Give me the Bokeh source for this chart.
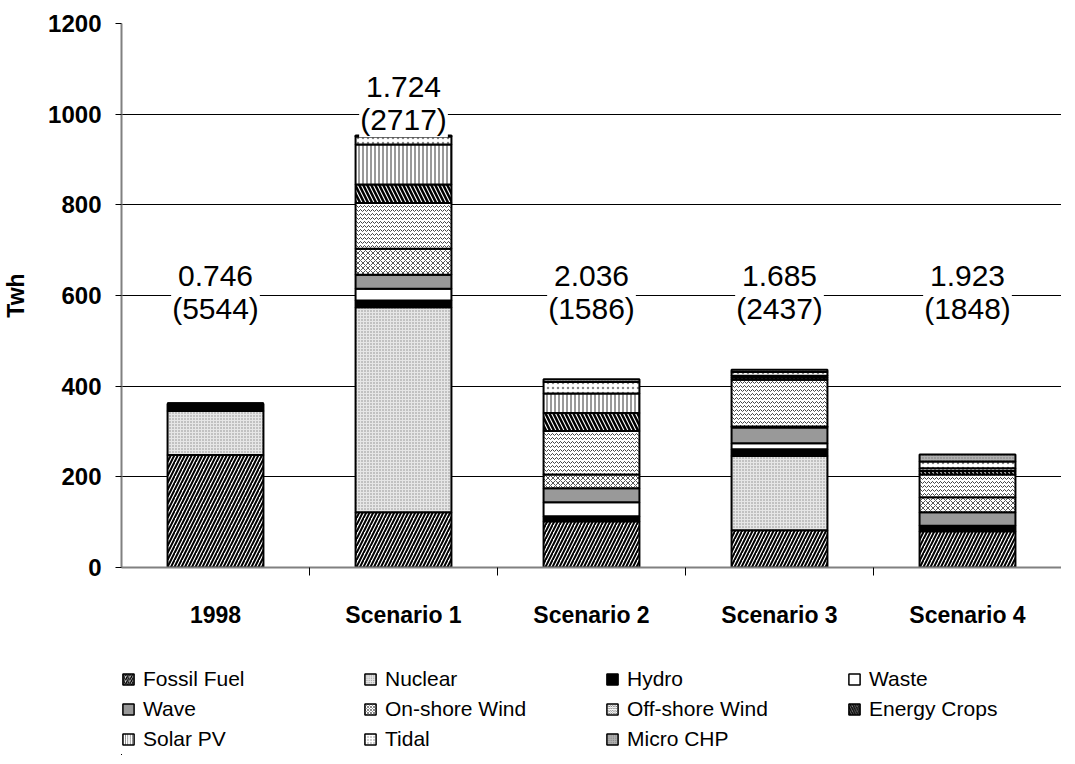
from bokeh.plotting import figure
from bokeh.models import (ColumnDataSource, FixedTicker, LinearAxis,
                          Range1d, Legend, LegendItem)
from bokeh.layouts import column
from bokeh.core.properties import value
from bokeh.embed import file_html
from bokeh.resources import INLINE

categories = ["1998", "Scenario 1", "Scenario 2", "Scenario 3", "Scenario 4"]
series_names = ["Fossil Fuel", "Nuclear", "Hydro", "Waste", "Wave", "On-shore Wind",
                "Off-shore Wind", "Energy Crops", "Solar PV", "Tidal", "Micro CHP"]
fossil_fuel = [248, 122, 102, 82, 80]
nuclear = [97, 452, 0, 164, 0]
hydro = [16, 15, 11, 15, 12]
waste = [0, 26, 31, 13, 0]
wave = [0, 31, 31, 35, 30]
onshore_wind = [0, 57, 30, 2, 33]
offshore_wind = [0, 101, 96, 103, 50]
energy_crops = [0, 41, 40, 5, 8]
solar_pv = [0, 88, 43, 4, 6]
tidal = [0, 18, 25, 8, 15]
micro_chp = [0, 2, 6, 5, 15]
ratio_labels = ["0.746", "1.724", "2.036", "1.685", "1.923"]
count_labels = ["(5544)", "(2717)", "(1586)", "(2437)", "(1848)"]
label_y = [607, 1024, 607, 607, 607]
y_ticks = [0, 200, 400, 600, 800, 1000, 1200]

FONT = "Liberation Sans"
n = len(categories)
xpos = list(range(n))
keys = ["s%d" % i for i in range(len(series_names))]
data = dict(x=xpos)
for k, v in zip(keys, [fossil_fuel, nuclear, hydro, waste, wave, onshore_wind, offshore_wind,
                       energy_crops, solar_pv, tidal, micro_chp]):
    data[k] = v
source = ColumnDataSource(data)

fills = ["white", "#e6e6e6", "black", "white", "#999999", "white", "white", "white", "white", "white", "#b0b0b0"]
patterns = ["right_diagonal_line", "dot", " ", " ", " ", "diagonal_cross", "horizontal_wave",
            "left_diagonal_line", "vertical_line", "dot", "dot"]
hcolors = ["black", "#8a8a8a", "black", "black", "black", "#555555", "#444444", "black", "#333333", "#888888", "#777777"]
hscales = [7, 3, 1, 1, 1, 5, 4, 8, 4, 5, 3]
hweights = [2, 1, 1, 1, 1, 1, 1, 2.5, 1, 1, 1]

p = figure(frame_width=940, frame_height=544, x_range=Range1d(-0.5, n - 0.5), y_range=Range1d(0, 1200),
           output_backend="svg", toolbar_location=None, x_axis_location=None, y_axis_location=None,
           min_border_left=119, min_border_right=0, min_border_top=23, min_border_bottom=80)
p.outline_line_color = None
p.background_fill_color = "white"
p.border_fill_color = "white"

renderers = p.vbar_stack(keys, x="x", width=0.51, source=source,
                         fill_color=fills, hatch_pattern=patterns, hatch_color=hcolors,
                         hatch_scale=hscales, hatch_weight=hweights,
                         line_color="black", line_width=2)

# y axis
yax = LinearAxis(ticker=FixedTicker(ticks=y_ticks))
yax.axis_label = "Twh"
yax.axis_label_text_font = FONT
yax.axis_label_text_font_style = "bold"
yax.axis_label_text_font_size = "23px"
yax.axis_label_text_color = "black"
yax.axis_label_standoff = 16
yax.major_label_text_font = FONT
yax.major_label_text_font_style = "bold"
yax.major_label_text_font_size = "24px"
yax.major_label_text_color = "black"
yax.major_label_standoff = 14
yax.major_tick_out = 6
yax.major_tick_in = 0
yax.minor_tick_line_color = None
yax.axis_line_color = "#808080"
yax.axis_line_width = 2
yax.major_tick_line_color = "black"
p.add_layout(yax, "left")

# boundary tick axis (nearest to frame)
bax = LinearAxis(ticker=FixedTicker(ticks=[i + 0.5 for i in range(n - 1)]))
bax.major_label_overrides = {i + 0.5: " " for i in range(n - 1)}
bax.major_label_text_font_size = "1px"
bax.major_label_standoff = 0
bax.major_tick_out = 8
bax.major_tick_in = 0
bax.minor_tick_line_color = None
bax.axis_line_color = "#808080"
bax.axis_line_width = 2
bax.major_tick_line_color = "black"
p.add_layout(bax, "below")

cax = LinearAxis(ticker=FixedTicker(ticks=xpos))
cax.major_label_overrides = {i: c for i, c in zip(xpos, categories)}
cax.axis_line_color = None
cax.major_tick_line_color = None
cax.minor_tick_line_color = None
cax.major_label_text_font = FONT
cax.major_label_text_font_style = "bold"
cax.major_label_text_font_size = "23px"
cax.major_label_text_color = "black"
cax.major_label_standoff = 16
p.add_layout(cax, "below")

p.xgrid.visible = False
p.ygrid.ticker = FixedTicker(ticks=y_ticks)
p.ygrid.grid_line_color = "black"
p.ygrid.grid_line_width = 1

# ratio labels
lab_src = ColumnDataSource(dict(x=xpos, y=label_y,
                                t=[a + "\n" + b for a, b in zip(ratio_labels, count_labels)]))
p.text(x="x", y="y", text="t", source=lab_src, text_align="center", text_baseline="middle",
       text_font=value(FONT), text_font_size="30px", text_line_height=1.0, text_color="black",
       background_fill_color="white", padding=1)

# legend in a separate strip under the chart; swatches come from the same data,
# kept outside this strip's visible ranges so only the legend shows
lg = figure(width=1059, height=108, x_range=Range1d(100, 101), y_range=Range1d(5000, 5001),
            output_backend="svg", toolbar_location=None, x_axis_location=None, y_axis_location=None,
            min_border=0, min_border_left=0)
lg.outline_line_color = None
lg.grid.visible = False
lg.background_fill_color = "white"
lg.border_fill_color = "white"
lrs = lg.vbar_stack(keys, x="x", width=0.51, source=source,
                    fill_color=fills, hatch_pattern=patterns, hatch_color=hcolors,
                    hatch_scale=[s * 0.6 for s in hscales], hatch_weight=[w * 0.7 for w in hweights],
                    line_color="black", line_width=1.5)
items = [LegendItem(label=s, renderers=[r]) for s, r in zip(series_names, lrs)]
legend = Legend(items=items, orientation="horizontal", ncols=4, location=(0, 4),
                label_text_font=FONT, label_text_font_size="21px", label_text_color="black",
                glyph_width=14, glyph_height=14, label_standoff=8, label_width=214,
                label_height=24, spacing=6, padding=0, margin=0,
                border_line_color=None, background_fill_alpha=0)
lg.add_layout(legend, "center")

layout = column(p, lg, spacing=0)
open("out.html", "w").write(file_html(layout, INLINE))
